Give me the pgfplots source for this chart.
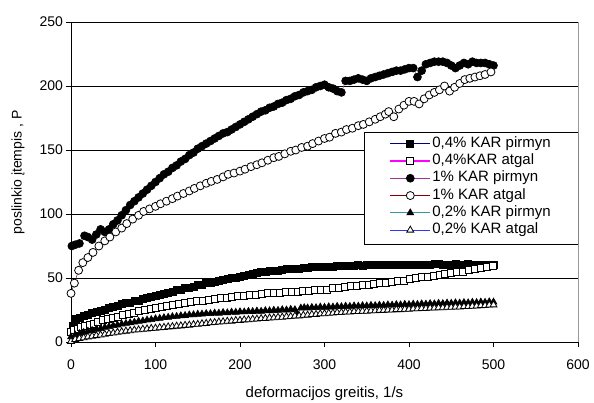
\documentclass[border=0pt]{standalone}
\usepackage{fontspec}
\setmainfont{Liberation Sans}
\usepackage{pgfplots}
\pgfplotsset{compat=1.18}
\definecolor{s1}{HTML}{000080}
\definecolor{s2}{HTML}{FF00FF}
\definecolor{s3}{HTML}{993399}
\definecolor{s4}{HTML}{800000}
\definecolor{s5}{HTML}{339999}
\definecolor{s6}{HTML}{3333FF}
\begin{document}
\begin{tikzpicture}
\useasboundingbox (-71bp,-61bp) rectangle (523bp,342bp);
\begin{axis}[
  at={(0,0)}, anchor=south west,
  scale only axis, width=507bp, height=320bp,
  xmin=0, xmax=600, ymin=0, ymax=250,
  axis x line*=bottom, axis y line*=left,
  axis line style={black, line width=0.8bp, -},
  axis background/.style={draw=gray!80, line width=0.8bp},
  xtick={0,100,...,600}, ytick={0,50,...,250},
  tick align=outside, major tick length=4.5bp,
  tick style={black, line width=0.8bp},
  ymajorgrids, grid style={black, line width=0.6bp},
  /pgf/number format/assume math mode=true,
  ticklabel style={font=\fontsize{14bp}{16bp}\selectfont},
  xticklabel style={yshift=-10bp},
  xlabel={deformacijos greitis, 1/s},
  ylabel={poslinkio įtempis , P},
  every axis x label/.style={at={(axis description cs:0.5,-0.16)}, anchor=center, font=\fontsize{15bp}{17bp}\selectfont},
  every axis y label/.style={at={(axis description cs:-0.1045,0.53)}, anchor=center, rotate=90, font=\fontsize{14bp}{16bp}\selectfont},
  legend style={at={(axis description cs:0.6282,0.6475)}, anchor=north west,
    draw=none, fill=none,
    font=\fontsize{15bp}{17bp}\selectfont,
    inner xsep=0pt, inner ysep=0pt, row sep=0pt,
    nodes={inner xsep=1.5bp, inner ysep=1.65bp, text height=10.5bp, text depth=3.5bp}},
  legend cell align=left,
  legend image code/.code={\draw[line width=1.2bp, mark repeat=2, mark phase=2] plot coordinates {(0bp,0bp)(20bp,0bp)(40bp,0bp)};},
]
\addplot[color=s1, line width=0.5bp, mark=square*, mark size=3.5bp, mark options={draw=black, fill=black, line width=0.6bp}] coordinates {
(0,8)(2,13)(4,17)(6,18)(10,19)(15,20.5)(20,21.5)(25,22.5)(30,23.5)(35,24.5)(40,25.5)(45,26.5)(50,27.5)(55,28.5)(60,29.5)(65,30.5)(70,31)(75,32)(80,32.5)(85,33.5)(90,34.5)(95,35)(100,36)(105,37)(110,38)(115,38.5)(120,39.5)(125,40.5)(130,41)(135,42)(140,42.5)(145,43.5)(150,44.5)(155,45)(160,46)(165,46.5)(170,47)(175,48)(180,48.5)(185,49)(190,50)(195,50.5)(200,51)(205,52)(210,52.5)(215,53)(220,54)(225,54.5)(230,55)(235,55.5)(240,56)(245,56)(250,56.5)(255,57)(260,57)(265,57.5)(270,57.5)(275,58)(280,58)(285,58.5)(290,58.5)(295,58.5)(300,59)(305,59)(310,59)(315,59.5)(320,59.5)(325,59.5)(330,59.5)(335,59.5)(340,60)(345,59.5)(350,60)(355,60)(360,60)(365,60)(370,60)(375,60)(380,60.5)(385,60)(390,60)(395,60.5)(400,60.5)(405,60.5)(410,60)(415,60.5)(420,60.5)(425,60.5)(430,61)(435,61)(440,60.5)(445,60.5)(450,60.5)(455,61)(460,60.5)(465,60.5)(470,61)(475,60.5)(480,60.5)(485,60.5)(490,60.5)(495,60.5)(500,60.5)};
\addlegendentry{0,4\% KAR pirmyn}
\addplot[color=s2, line width=0.5bp, mark=square*, mark size=3.5bp, mark options={draw=black, fill=white, line width=0.8bp}] coordinates {
(0,8)(4,9.5)(8,10.5)(12,11.5)(17,12.5)(22,13.5)(27,14.5)(32,15.5)(38,17)(44,18)(50,19)(56,20)(62,21)(68,22)(74,23)(80,24)(87,25)(94,26)(100,26.8)(107,27.6)(114,28.4)(121,29.2)(128,30)(135,30.6)(142,31.2)(149,31.8)(156,32.4)(163,33)(170,33.6)(177,34.2)(184,34.8)(191,35.3)(198,35.7)(205,36.2)(212,36.6)(219,37)(226,37.5)(233,38)(240,38.3)(247,38.7)(254,39)(261,39.3)(268,39.5)(275,40)(282,40.3)(289,40.5)(296,41)(303,41)(310,42)(317,42.5)(324,43)(331,43.5)(338,44)(345,44.5)(352,45)(359,45.5)(366,46)(373,46.5)(380,47)(387,47.5)(394,48)(401,49)(408,50)(415,50.5)(422,51)(429,52)(436,52.5)(443,53)(450,54)(457,54.5)(464,55)(471,56)(478,57)(485,58)(492,58.5)(499,59.5)};
\addlegendentry{0,4\%KAR atgal}
\addplot[color=s3, line width=0.5bp, mark=*, mark size=4bp, mark options={draw=black, fill=black, line width=0.6bp}] coordinates {
(1,75)(5,76)(10,77)(16,83)(20,82)(25,80)(30,84)(35,88)(40,86)(45,88)(50,92)(55,95)(60,99)(65,103)(70,107)(75,110)(80,113)(85,116)(90,119)(95,122)(100,125)(105,128)(110,131)(115,133)(120,136)(125,138)(130,141)(135,143)(140,146)(145,148)(150,151)(155,153)(160,155)(165,157)(170,159)(175,161)(180,163)(185,164)(190,166)(195,168)(200,170)(205,172)(210,174)(215,176)(220,178)(225,180)(230,181)(235,183)(240,184)(245,186)(250,187)(255,189)(260,190)(265,192)(270,193)(275,195)(280,196)(285,197)(290,199)(295,200)(300,201)(305,199)(310,198)(315,196)(320,195)(325,204)(330,204)(335,205)(340,206)(345,205)(350,204)(355,206)(360,207)(365,208)(370,209)(375,210)(380,211)(385,212)(390,212)(395,213)(400,214)(405,214)(410,207)(415,212)(420,217)(425,218)(430,219)(435,219)(440,219)(445,218)(450,216)(455,214)(460,216)(465,218)(470,217)(475,219)(480,218)(485,218)(490,218)(495,217)(500,216)};
\addlegendentry{1\% KAR pirmyn}
\addplot[color=s4, line width=0.5bp, mark=*, mark size=4bp, mark options={draw=black, fill=white, line width=0.8bp}] coordinates {
(0,38)(4,46)(9,56)(14,62)(20,66)(26,70)(33,75)(40,79)(46,82)(53,86)(60,89)(66,92.5)(73,96)(80,99)(86,102)(93,104)(100,106)(106,108)(113,110)(120,112)(126,114)(133,116)(140,118)(146,120)(153,122)(160,124)(166,125.5)(173,127)(180,129)(186,131)(193,132)(200,133.5)(206,135)(213,137)(220,138.5)(226,140)(233,142)(240,144)(246,145)(253,147)(260,149)(266,150)(273,152)(280,153)(286,155)(293,157)(300,159)(306,160)(313,163)(320,164)(326,166)(333,167)(340,169)(346,170)(353,172)(360,174)(366,176)(372,178)(376,180)(382,176)(388,182)(394,185)(400,188)(406,188)(412,186)(418,190)(424,193)(430,195)(436,197)(442,200)(448,196)(454,199)(460,202)(466,205)(472,206)(478,207)(484,208)(490,209)(497,211)};
\addlegendentry{1\% KAR atgal}
\addplot[color=s5, line width=0.5bp, mark=triangle*, mark size=4bp, mark options={draw=black, fill=black, line width=0.6bp}] coordinates {
(0,4)(5,5.5)(10,6.5)(15,7.5)(20,8.5)(25,9)(30,10)(35,10.5)(40,11.5)(45,12)(50,12.8)(55,13.2)(60,14)(65,14.5)(70,15)(75,15.5)(80,16.2)(85,16.5)(90,17.2)(95,17.5)(100,18.2)(105,18.5)(110,19)(115,19.3)(120,19.8)(125,20)(130,20.5)(135,20.7)(140,21.2)(145,21.3)(150,21.7)(155,21.8)(160,22.2)(165,22.2)(170,22.6)(175,22.5)(180,23)(185,22.8)(190,23.3)(195,23.2)(200,23.6)(205,23.5)(210,23.9)(215,23.8)(220,24.2)(225,24)(230,24.5)(235,24.4)(240,24.8)(245,24.7)(250,25.2)(255,25)(260,25.5)(265,25.2)(268,21.5)(272,26.5)(276,26.8)(280,26.6)(285,27)(290,26.8)(295,27.3)(300,27.1)(305,27.5)(310,27.3)(315,27.8)(320,27.6)(325,28)(330,27.8)(335,28.2)(340,28)(345,28.4)(350,28.2)(355,28.6)(360,28.4)(365,28.8)(370,28.6)(375,29)(380,28.8)(385,29.2)(390,29)(395,29.4)(400,29.2)(405,29.6)(410,29.4)(415,29.8)(420,29.6)(425,30)(430,29.8)(435,30.2)(440,30)(445,30.4)(450,30.2)(455,30.6)(460,30.4)(465,30.8)(470,30.6)(475,31)(480,30.8)(485,31.2)(490,31)(495,31.4)(500,31.2)};
\addlegendentry{0,2\% KAR pirmyn}
\addplot[color=s6, line width=0.5bp, mark=triangle*, mark size=4bp, mark options={draw=black, fill=white, line width=0.8bp}] coordinates {
(0,0.5)(5,2)(10,2.8)(15,3.3)(20,4)(25,4.5)(30,5)(35,5.5)(40,6)(45,6.6)(50,7)(55,7.6)(60,8)(65,8.5)(70,8.8)(75,9.3)(80,9.5)(85,10)(90,10.2)(95,10.6)(100,10.8)(105,11.2)(110,11.4)(115,11.8)(120,12)(125,12.4)(130,12.6)(135,13)(140,13.2)(145,13.6)(150,13.8)(155,14.3)(160,14.5)(165,15)(170,15.2)(175,15.6)(180,15.8)(185,16.2)(190,16.3)(195,16.8)(200,16.9)(205,17.3)(210,17.4)(215,17.8)(220,17.9)(225,18.3)(230,18.4)(235,18.8)(240,18.9)(245,19.3)(250,19.4)(255,19.8)(260,19.9)(265,20.3)(270,20.4)(275,20.9)(280,21)(285,21.5)(290,21.6)(295,22)(300,22.1)(305,22.5)(310,22.6)(315,23)(320,23)(325,23.4)(330,23.4)(335,23.8)(340,23.8)(345,24.1)(350,24.1)(355,24.4)(360,24.4)(365,24.7)(370,24.7)(375,25)(380,25)(385,25.3)(390,25.3)(395,25.6)(400,25.6)(405,25.9)(410,25.9)(415,26.2)(420,26.2)(425,26.5)(430,26.5)(435,26.8)(440,26.8)(445,27.1)(450,27.1)(455,27.4)(460,27.4)(465,27.7)(470,27.7)(475,28)(480,28.1)(485,28.4)(490,28.5)(495,28.9)(500,29)};
\addlegendentry{0,2\% KAR atgal}
\draw[black, line width=0.6bp, fill=white] (rel axis cs:0.5779,0.65625) rectangle (rel axis cs:1,0.30625);
\end{axis}
\end{tikzpicture}
\end{document}
